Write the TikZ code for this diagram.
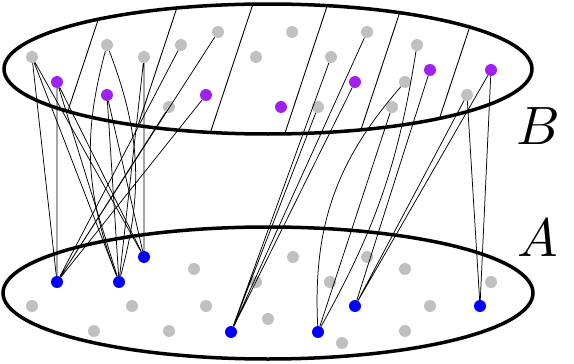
\documentclass[tikz,border=0pt]{standalone}
\usepackage{amsmath}
\definecolor{dotgray}{RGB}{192,192,192}
\definecolor{dotpurple}{RGB}{160,32,240}
\definecolor{dotblue}{RGB}{0,0,255}

\begin{document}
\begin{tikzpicture}[x=1pt, y=-1pt,
  gdot/.style={circle, fill=dotgray, minimum size=12pt, inner sep=0pt},
  pdot/.style={circle, fill=dotpurple, minimum size=12pt, inner sep=0pt},
  adot/.style={circle, fill=dotblue, minimum size=12pt, inner sep=0pt},
  edge/.style={line width=0.75pt},
  rim/.style={line width=3.5pt},
  stripe/.style={line width=0.9pt},
  setlabel/.style={scale=5.4}]
\useasboundingbox (0, 0) rectangle (574, 364);

\begin{scope}
  \clip (268, 69) ellipse [x radius=264, y radius=65];
  \foreach \c in {82, 156.8, 231.6, 306.4, 381.2, 456}
    \draw [stripe] ({\c+26}, -10) -- ({\c-27}, 150);
\end{scope}
\draw [rim] (268, 69) ellipse [x radius=264, y radius=65];
\draw [rim] (268, 293) ellipse [x radius=265, y radius=66];

\node [setlabel] at (538, 126) (labB) {\(B\)};
\node [setlabel] at (538, 238) (labA) {\(A\)};

\node [gdot] at (32, 57) (b1) {};
\node [pdot] at (57, 82) (b2) {};
\node [gdot] at (107, 45) (b3) {};
\node [pdot] at (107, 95) (b4) {};
\node [gdot] at (144, 57) (b5) {};
\node [gdot] at (181, 45) (b6) {};
\node [gdot] at (218, 32) (b7) {};
\node [gdot] at (169, 107) (b8) {};
\node [pdot] at (206, 95) (b9) {};
\node [gdot] at (256, 57) (b10) {};
\node [pdot] at (281, 107) (b11) {};
\node [gdot] at (292, 32) (b12) {};
\node [gdot] at (331, 57) (b13) {};
\node [gdot] at (318, 107) (b14) {};
\node [gdot] at (367, 32) (b15) {};
\node [pdot] at (355, 82) (b16) {};
\node [gdot] at (417, 45) (b17) {};
\node [gdot] at (405, 82) (b18) {};
\node [gdot] at (392, 107) (b19) {};
\node [pdot] at (430, 70) (b20) {};
\node [gdot] at (467, 95) (b21) {};
\node [pdot] at (491, 70) (b22) {};

\node [adot] at (57, 282) (a1) {};
\node [adot] at (119, 282) (a2) {};
\node [adot] at (144, 257) (a3) {};
\node [adot] at (231, 332) (a4) {};
\node [adot] at (318, 332) (a5) {};
\node [adot] at (355, 306) (a6) {};
\node [adot] at (480, 306) (a7) {};
\node [gdot] at (194, 269) (a8) {};
\node [gdot] at (32, 306) (a9) {};
\node [gdot] at (132, 306) (a10) {};
\node [gdot] at (206, 306) (a11) {};
\node [gdot] at (94, 331) (a12) {};
\node [gdot] at (169, 331) (a13) {};
\node [gdot] at (256, 282) (a14) {};
\node [gdot] at (268, 319) (a15) {};
\node [gdot] at (293, 257) (a16) {};
\node [gdot] at (367, 257) (a17) {};
\node [gdot] at (405, 269) (a18) {};
\node [gdot] at (330, 282) (a19) {};
\node [gdot] at (430, 306) (a20) {};
\node [gdot] at (491, 282) (a21) {};
\node [gdot] at (405, 331) (a22) {};
\node [gdot] at (342, 343) (a23) {};

\draw [edge] (b1) -- (a1) (b1) -- (a2) (b1) -- (a3);
\draw [edge] (b2) -- (a1) (b2) -- (a2) (b2) -- (a3);
\draw [edge] (b3) to [bend right=18] (a2);
\draw [edge] (b3) to [bend left=18] (a2);
\draw [edge] (b4) -- (a2) (b4) -- (a3);
\draw [edge] (b5) -- (a3) (b5) -- (a2);
\draw [edge] (b6) -- (a1) (b7) -- (a1) (b8) -- (a1) (b9) -- (a1);
\draw [edge] (b13) -- (a4) (b14) -- (a4) (b15) -- (a4) (b16) -- (a4);
\draw [edge] (b17) to [bend left=10] (a5);
\draw [edge] (b18) to [bend right=22] (a5);
\draw [edge] (b19) -- (a5);
\draw [edge] (b20) -- (a6) (b21) -- (a6) (b22) -- (a6);
\draw [edge] (b21) -- (a7) (b22) -- (a7);
\end{tikzpicture}
\end{document}
